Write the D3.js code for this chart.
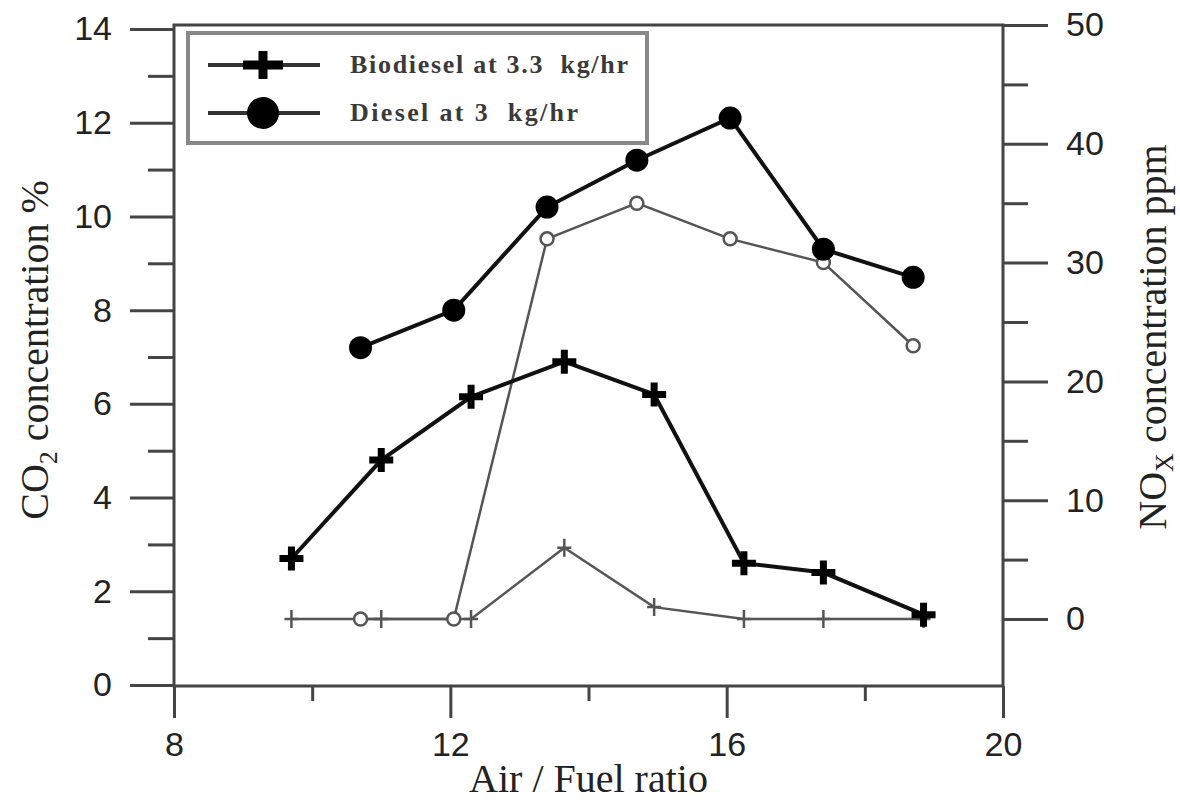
<!DOCTYPE html>
<html>
<head>
<meta charset="utf-8">
<script src="https://cdnjs.cloudflare.com/ajax/libs/d3/7.8.5/d3.min.js"></script>
<style>
  body { margin: 0; background: #fff; }
  .tick text { font-family: "Liberation Sans", Arial, sans-serif; font-size: 34px; fill: #222; }
  .title { font-family: "Liberation Serif", "Times New Roman", serif; font-size: 40px; fill: #222; }
  .legend-text { font-family: "Liberation Serif", "Times New Roman", serif; font-size: 26px; fill: #3a3a3a; white-space: pre; }
</style>
</head>
<body>
<div id="chart"></div>
<script>
// Chart data
var bioAF = [9.7, 11.0, 12.3, 13.65, 14.95, 16.25, 17.4, 18.85];
var bioCO2 = [2.7, 4.8, 6.15, 6.9, 6.2, 2.6, 2.4, 1.5];
var bioNOx = [0, 0, 0, 6, 1, 0, 0, 0];

var dieselAF = [10.7, 12.05, 13.4, 14.7, 16.05, 17.4, 18.7];
var dieselCO2 = [7.2, 8.0, 10.2, 11.2, 12.1, 9.3, 8.7];
var dieselNOx = [0, 0, 32, 35, 32, 30, 23];

var xTicks = [8, 12, 16, 20];
var xMinor = [10, 14, 18];
var leftTicks = [0, 2, 4, 6, 8, 10, 12, 14];
var leftMinor = [1, 3, 5, 7, 9, 11, 13];
var rightTicks = [0, 10, 20, 30, 40, 50];
var rightMinor = [5, 15, 25, 35, 45];

var legendLabels = ["Biodiesel at 3.3  kg/hr", "Diesel at 3  kg/hr"];

// SVG area
var svgWidth = 1180;
var svgHeight = 803;
var plot = { left: 174, right: 1003, top: 25, bottom: 686 };

var svg = d3.select("#chart")
    .append("svg")
    .attr("width", svgWidth)
    .attr("height", svgHeight);

// Scales
var xScale = d3.scaleLinear().domain([8, 20]).range([plot.left, plot.right]);
var yLeft = d3.scaleLinear().domain([0, 14]).range([685, 29]);
var yRight = d3.scaleLinear().domain([0, 50]).range([619, 25]);

var axisColor = "#444";

function styleAxis(g) {
    g.select(".domain").remove();
    g.selectAll(".tick line").attr("stroke", axisColor).attr("stroke-width", 3);
}

// Major and minor axes
svg.append("g")
    .attr("transform", `translate(0, ${plot.bottom})`)
    .call(d3.axisBottom(xScale).tickValues(xTicks).tickSize(32).tickPadding(14))
    .call(styleAxis);
svg.append("g")
    .attr("transform", `translate(0, ${plot.bottom})`)
    .call(d3.axisBottom(xScale).tickValues(xMinor).tickSize(15).tickFormat(""))
    .call(styleAxis);

svg.append("g")
    .attr("transform", `translate(${plot.left}, 0)`)
    .call(d3.axisLeft(yLeft).tickValues(leftTicks).tickSize(44).tickPadding(18))
    .call(styleAxis);
svg.append("g")
    .attr("transform", `translate(${plot.left}, 0)`)
    .call(d3.axisLeft(yLeft).tickValues(leftMinor).tickSize(26).tickFormat(""))
    .call(styleAxis);

svg.append("g")
    .attr("transform", `translate(${plot.right}, 0)`)
    .call(d3.axisRight(yRight).tickValues(rightTicks).tickSize(45).tickPadding(18))
    .call(styleAxis);
svg.append("g")
    .attr("transform", `translate(${plot.right}, 0)`)
    .call(d3.axisRight(yRight).tickValues(rightMinor).tickSize(25).tickFormat(""))
    .call(styleAxis);

// Frame
svg.append("path")
    .attr("d", `M${plot.left},${plot.bottom}V${plot.top}H${plot.right}V${plot.bottom}Z`)
    .attr("fill", "none")
    .attr("stroke", axisColor)
    .attr("stroke-width", 3);

// Line helpers
function series(xs, ys) { return xs.map((v, i) => [v, ys[i]]); }
var lineLeft = d3.line().x(d => xScale(d[0])).y(d => yLeft(d[1]));
var lineRight = d3.line().x(d => xScale(d[0])).y(d => yRight(d[1]));

function plusPath(w, h, t) {
    return `M${-w / 2},${-t / 2}H${-t / 2}V${-h / 2}H${t / 2}V${-t / 2}H${w / 2}V${t / 2}H${t / 2}V${h / 2}H${-t / 2}V${t / 2}H${-w / 2}Z`;
}

var bioNOxData = series(bioAF, bioNOx);
var dieselNOxData = series(dieselAF, dieselNOx);
var bioCO2Data = series(bioAF, bioCO2);
var dieselCO2Data = series(dieselAF, dieselCO2);

// Thin NOx lines
svg.append("path").datum(dieselNOxData)
    .attr("d", lineRight).attr("fill", "none")
    .attr("stroke", "#555").attr("stroke-width", 2.5);
svg.append("path").datum(bioNOxData)
    .attr("d", lineRight).attr("fill", "none")
    .attr("stroke", "#555").attr("stroke-width", 2.5);

// Thick CO2 lines
svg.append("path").datum(bioCO2Data)
    .attr("d", lineLeft).attr("fill", "none")
    .attr("stroke", "#111").attr("stroke-width", 4);
svg.append("path").datum(dieselCO2Data)
    .attr("d", lineLeft).attr("fill", "none")
    .attr("stroke", "#111").attr("stroke-width", 4);

// NOx markers
svg.append("g").selectAll("path")
    .data(bioNOxData).enter().append("path")
    .attr("transform", d => `translate(${xScale(d[0])}, ${yRight(d[1])})`)
    .attr("d", "M-7,0H7M0,-9V9")
    .attr("stroke", "#555").attr("stroke-width", 2.5);
svg.append("g").selectAll("circle")
    .data(dieselNOxData).enter().append("circle")
    .attr("cx", d => xScale(d[0]))
    .attr("cy", d => yRight(d[1]))
    .attr("r", 6.5)
    .attr("fill", "#fff").attr("stroke", "#555").attr("stroke-width", 2.5);

// CO2 markers
svg.append("g").selectAll("path")
    .data(bioCO2Data).enter().append("path")
    .attr("transform", d => `translate(${xScale(d[0])}, ${yLeft(d[1])})`)
    .attr("d", plusPath(24, 24, 7))
    .attr("fill", "#000");
svg.append("g").selectAll("circle")
    .data(dieselCO2Data).enter().append("circle")
    .attr("cx", d => xScale(d[0]))
    .attr("cy", d => yLeft(d[1]))
    .attr("r", 11.5)
    .attr("fill", "#000");

// Legend
var legend = svg.append("g");
legend.append("rect")
    .attr("x", 188).attr("y", 33).attr("width", 459).attr("height", 110)
    .attr("fill", "#fff").attr("stroke", "#888").attr("stroke-width", 4);
var rows = [65, 113];
rows.forEach(function (ry, i) {
    legend.append("line")
        .attr("x1", 208).attr("x2", 320).attr("y1", ry).attr("y2", ry)
        .attr("stroke", "#333").attr("stroke-width", 4);
    legend.append("text")
        .attr("class", "legend-text")
        .attr("x", 350).attr("y", ry + 8)
        .attr("textLength", i === 0 ? 278 : 228)
        .style("font-weight", "bold")
        .text(legendLabels[i]);
});
legend.append("path")
    .attr("transform", `translate(263, ${rows[0]})`)
    .attr("d", plusPath(40, 28, 9))
    .attr("fill", "#000");
legend.append("circle")
    .attr("cx", 263).attr("cy", rows[1]).attr("r", 16)
    .attr("fill", "#000");

// Axis titles
svg.append("text")
    .attr("class", "title")
    .attr("x", (plot.left + plot.right) / 2)
    .attr("y", 792)
    .style("text-anchor", "middle")
    .text("Air / Fuel ratio");

var leftTitle = svg.append("text")
    .attr("class", "title")
    .attr("transform", "translate(48, 350) rotate(-90)")
    .style("text-anchor", "middle");
leftTitle.append("tspan").text("CO");
leftTitle.append("tspan").attr("dy", 9).style("font-size", "26px").text("2");
leftTitle.append("tspan").attr("dy", -9).text(" concentration %");

var rightTitle = svg.append("text")
    .attr("class", "title")
    .attr("transform", "translate(1166, 337) rotate(-90)")
    .style("text-anchor", "middle");
rightTitle.append("tspan").text("NO");
rightTitle.append("tspan").attr("dy", 7).style("font-size", "26px").text("X");
rightTitle.append("tspan").attr("dy", -7).text(" concentration ppm");
</script>
</body>
</html>
